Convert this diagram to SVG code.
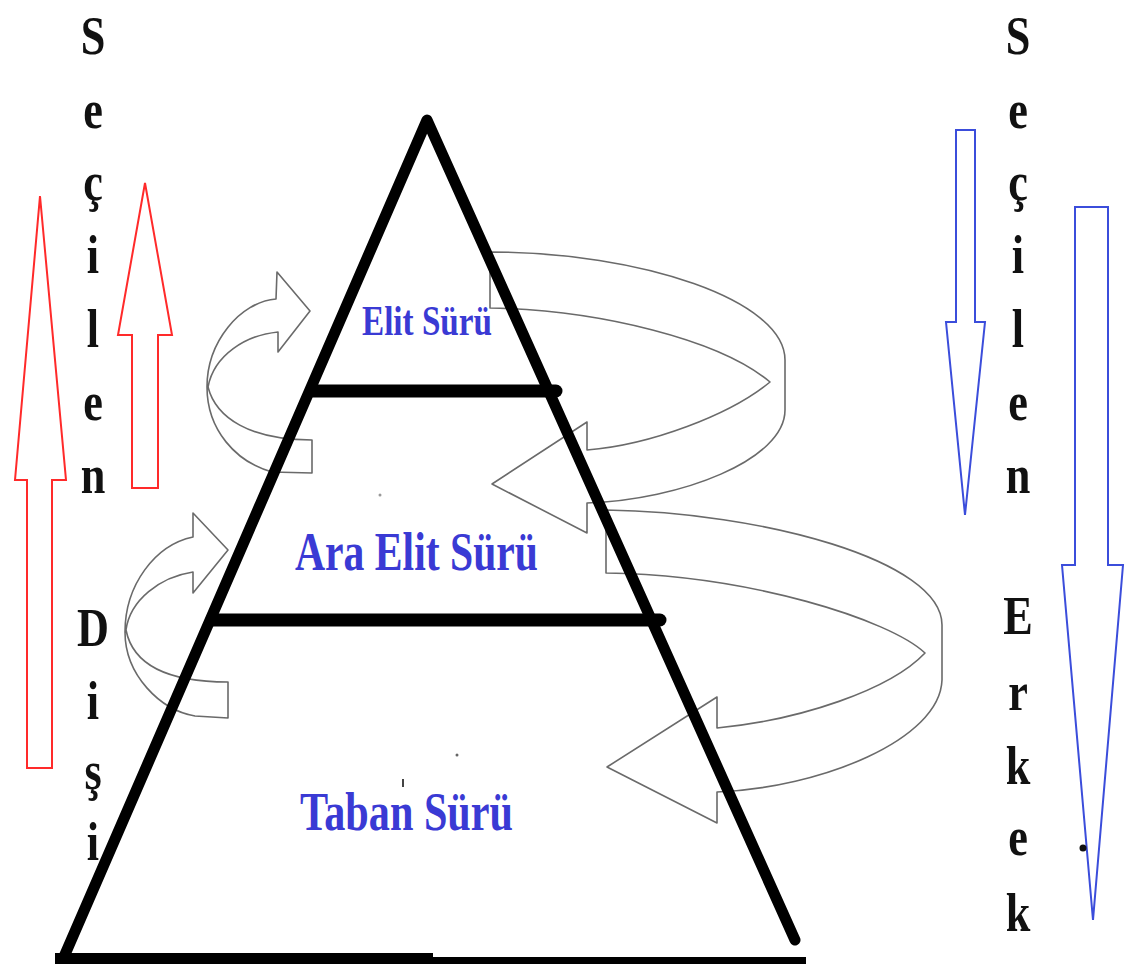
<svg xmlns="http://www.w3.org/2000/svg" width="1125" height="964" viewBox="0 0 1125 964">
<style>
.side{font-family:"Liberation Serif","Times New Roman",serif;font-weight:bold;font-size:54px;fill:#111;text-anchor:middle}
.lab{font-family:"Liberation Serif","Times New Roman",serif;font-weight:bold;fill:#3a3ad4}
.curve{fill:none;stroke:#6a6a6a;stroke-width:1.6;stroke-linejoin:round}
.red{fill:none;stroke:#ff2a2a;stroke-width:2}
.blue{fill:none;stroke:#3b4ddb;stroke-width:2}
</style>
<rect width="1125" height="964" fill="#fff"/>

<g id="connectors">
  <path id="arrow-left-top" class="curve" d="M312,440 L312,473 L272,472 C236,462 207,430 207,387 C207,342 240,302 276,299 L277,272 L310,311 L278,352 L278,332 C246,335 214,355 208,387 C216,418 250,440 312,440 Z"/>
  <path id="arrow-right-top" class="curve" d="M490,252 C640,252 785,300 785,360 L785,410 C785,460 680,500 587,503 L587,533 L492,484 L587,422 L587,450 C650,445 730,415 770,382 C720,340 600,310 490,308 Z"/>
  <path id="arrow-left-mid" class="curve" d="M228,682 L228,718 L195,716 C160,710 125,675 125,632 C125,585 155,545 193,537 L193,513 L228,550 L193,593 L193,572 C160,577 130,600 126,630 C132,660 160,682 228,682 Z"/>
  <path id="arrow-right-mid" class="curve" d="M606,510 C760,512 942,560 942,625 L942,680 C940,740 820,788 717,792 L717,823 L607,767 L717,697 L717,728 C800,720 890,690 925,653 C890,620 750,575 606,573 Z"/>
</g>

<g id="pyramid">
  <path d="M60,966 L427,120 L795,940" fill="none" stroke="#000" stroke-width="11" stroke-linejoin="round" stroke-linecap="round"/>
  <line x1="313" y1="391" x2="556" y2="391" stroke="#000" stroke-width="13" stroke-linecap="round"/>
  <line x1="212" y1="620" x2="660" y2="620" stroke="#000" stroke-width="13" stroke-linecap="round"/>
  <rect x="55" y="953" width="378" height="11" fill="#000"/>
  <rect x="430" y="957" width="376" height="7" fill="#000"/>
</g>

<g id="level-elit">
  <text class="lab" x="362" y="335" font-size="42" textLength="130" lengthAdjust="spacingAndGlyphs">Elit Sürü</text>
</g>
<g id="level-ara">
  <text class="lab" x="295" y="570" font-size="54" textLength="243" lengthAdjust="spacingAndGlyphs">Ara Elit Sürü</text>
</g>
<g id="level-taban">
  <text class="lab" x="300" y="830" font-size="54" textLength="213" lengthAdjust="spacingAndGlyphs">Taban Sürü</text>
</g>

<g id="red-arrows">
  <path class="red" d="M40,196 L66,480 L52,480 L52,768 L27,768 L27,480 L15,480 Z"/>
  <path class="red" d="M145,183 L172,335 L158,335 L158,488 L132,488 L132,335 L118,335 Z"/>
</g>
<g id="blue-arrows">
  <path class="blue" d="M956,130 L975,130 L975,322 L985,322 L965,515 L946,322 L956,322 Z"/>
  <path class="blue" d="M1075,207 L1108,207 L1108,565 L1123,565 L1093,920 L1062,565 L1075,565 Z"/>
</g>

<g id="label-left" transform="translate(93,0) scale(0.82,1)">
  <text class="side" x="0" y="54">S</text>
  <text class="side" x="0" y="128">e</text>
  <text class="side" x="0" y="200">ç</text>
  <text class="side" x="0" y="273">i</text>
  <text class="side" x="0" y="347">l</text>
  <text class="side" x="0" y="420">e</text>
  <text class="side" x="0" y="493">n</text>
  <text class="side" x="0" y="646">D</text>
  <text class="side" x="0" y="719">i</text>
  <text class="side" x="0" y="789">ş</text>
  <text class="side" x="0" y="860">i</text>
</g>
<g id="label-right" transform="translate(1018,0) scale(0.82,1)">
  <text class="side" x="0" y="54">S</text>
  <text class="side" x="0" y="128">e</text>
  <text class="side" x="0" y="200">ç</text>
  <text class="side" x="0" y="273">i</text>
  <text class="side" x="0" y="347">l</text>
  <text class="side" x="0" y="420">e</text>
  <text class="side" x="0" y="493">n</text>
  <text class="side" x="0" y="634">E</text>
  <text class="side" x="0" y="710">r</text>
  <text class="side" x="0" y="784">k</text>
  <text class="side" x="0" y="855">e</text>
  <text class="side" x="0" y="931">k</text>
</g>

<g id="specks">
  <circle cx="1083" cy="848" r="3.5" fill="#111"/>
  <circle cx="380" cy="495" r="1.5" fill="#999"/>
  <circle cx="457" cy="755" r="1.5" fill="#666"/>
  <rect x="402" y="779" width="2" height="8" fill="#444"/>
</g>
</svg>
